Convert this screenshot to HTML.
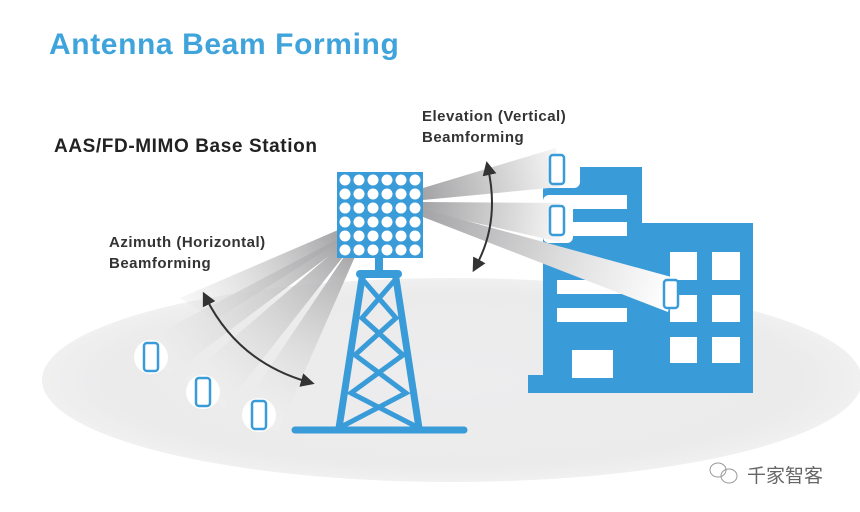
<!DOCTYPE html>
<html><head><meta charset="utf-8"><style>
html,body{margin:0;padding:0;background:#fff;width:860px;height:512px;overflow:hidden}
</style></head><body>
<svg width="860" height="512" viewBox="0 0 860 512" xmlns="http://www.w3.org/2000/svg">
<defs>
<radialGradient id="gnd" cx="0.5" cy="0.5" r="0.5">
<stop offset="0" stop-color="#ededee"/><stop offset="0.85" stop-color="#ebebec"/><stop offset="1" stop-color="#f0f0f1"/>
</radialGradient>
<linearGradient id="bl1" gradientUnits="userSpaceOnUse" x1="340" y1="235" x2="170" y2="330"><stop offset="0" stop-color="#a4a4a6"/><stop offset="1" stop-color="#eeeeee" stop-opacity="0.2"/></linearGradient>
<linearGradient id="bl2" gradientUnits="userSpaceOnUse" x1="340" y1="240" x2="150" y2="357"><stop offset="0" stop-color="#a4a4a6"/><stop offset="1" stop-color="#f4f4f4" stop-opacity="0.3"/></linearGradient>
<linearGradient id="bl3" gradientUnits="userSpaceOnUse" x1="345" y1="245" x2="202" y2="392"><stop offset="0" stop-color="#a4a4a6"/><stop offset="1" stop-color="#f4f4f4" stop-opacity="0.3"/></linearGradient>
<linearGradient id="bl4" gradientUnits="userSpaceOnUse" x1="350" y1="250" x2="258" y2="415"><stop offset="0" stop-color="#a4a4a6"/><stop offset="1" stop-color="#f4f4f4" stop-opacity="0.3"/></linearGradient>
<linearGradient id="br1" gradientUnits="userSpaceOnUse" x1="423" y1="195" x2="560" y2="165"><stop offset="0" stop-color="#a4a4a6"/><stop offset="1" stop-color="#f6f6f6"/></linearGradient>
<linearGradient id="br2" gradientUnits="userSpaceOnUse" x1="423" y1="205" x2="560" y2="220"><stop offset="0" stop-color="#a4a4a6"/><stop offset="1" stop-color="#f6f6f6"/></linearGradient>
<linearGradient id="br3" gradientUnits="userSpaceOnUse" x1="423" y1="212" x2="671" y2="294"><stop offset="0" stop-color="#a4a4a6"/><stop offset="0.55" stop-color="#dcdcdd"/><stop offset="1" stop-color="#ffffff"/></linearGradient>
<marker id="ah" viewBox="0 0 10 10" refX="5" refY="5" markerWidth="7" markerHeight="7" orient="auto-start-reverse"><path d="M0,0 L10,5 L0,10 z" fill="#333"/></marker>
</defs>

<ellipse cx="452" cy="380" rx="410" ry="102" fill="url(#gnd)"/>

<text x="49" y="54" font-family="Liberation Sans, sans-serif" font-weight="bold" font-size="30" letter-spacing="0.6" fill="#3fa3dc">Antenna Beam Forming</text>
<text x="54" y="152" font-family="Liberation Sans, sans-serif" font-weight="bold" font-size="19" letter-spacing="0.6" fill="#222">AAS/FD-MIMO Base Station</text>
<g font-family="Liberation Sans, sans-serif" font-weight="bold" font-size="15" letter-spacing="0.5" fill="#333">
<text x="422" y="121">Elevation (Vertical)</text><text x="422" y="142">Beamforming</text>
<text x="109" y="247">Azimuth (Horizontal)</text><text x="109" y="268">Beamforming</text>
</g>

<!-- building -->
<g fill="#3a9bd9">
<path d="M543 167 H642 V223 H753 V393 H528 V375 H543 Z"/>
</g>
<g fill="#fff">
<rect x="543" y="160" width="37" height="28" rx="6"/>
<rect x="543" y="195" width="30" height="48" rx="6"/>
<rect x="557" y="195" width="70" height="14"/><rect x="557" y="222" width="70" height="14"/>
<rect x="557" y="280" width="70" height="14"/><rect x="557" y="308" width="70" height="14"/>
<rect x="572" y="350" width="41" height="28"/>
<rect x="670" y="252" width="27" height="28"/><rect x="712" y="252" width="28" height="28"/>
<rect x="670" y="295" width="27" height="27"/><rect x="712" y="295" width="28" height="27"/>
<rect x="670" y="337" width="27" height="26"/><rect x="712" y="337" width="28" height="26"/>
</g>

<!-- beams -->
<polygon points="338,230 342,240 215,320 180,298" fill="url(#bl1)"/>
<polygon points="340,238 345,244 170,375 136,345" fill="url(#bl2)"/>
<polygon points="344,243 350,248 224,408 184,380" fill="url(#bl3)"/>
<polygon points="350,248 357,252 278,432 241,410" fill="url(#bl4)"/>
<polygon points="423,188 423,200 560,187 556,148" fill="url(#br1)"/>
<polygon points="423,202 423,211 560,242 560,203" fill="url(#br2)"/>
<polygon points="423,209 423,217 668,312 675,278" fill="url(#br3)"/>

<!-- phone halos -->
<g fill="#fff"><circle cx="151" cy="357" r="17"/><circle cx="203" cy="392" r="17"/><circle cx="259" cy="415" r="17"/></g>

<!-- phones -->
<g fill="#fff" stroke="#3a9bd9" stroke-width="2.5">
<rect x="144" y="343" width="14" height="28" rx="3"/>
<rect x="196" y="378" width="14" height="28" rx="3"/>
<rect x="252" y="401" width="14" height="28" rx="3"/>
<rect x="550" y="155" width="14" height="29" rx="3"/>
<rect x="550" y="206" width="14" height="29" rx="3"/>
<rect x="664" y="280" width="14" height="28" rx="3"/>
</g>

<!-- arcs -->
<path d="M206 298 Q238 362 308 382" fill="none" stroke="#333" stroke-width="2" marker-start="url(#ah)" marker-end="url(#ah)"/>
<path d="M488 168 Q500 222 476 266" fill="none" stroke="#333" stroke-width="2" marker-start="url(#ah)" marker-end="url(#ah)"/>

<!-- antenna panel -->
<rect x="337" y="172" width="86" height="86" fill="#3a9bd9"/>
<g fill="#fff" id="dots">
<circle cx="345" cy="180" r="5.5"/><circle cx="359" cy="180" r="5.5"/><circle cx="373" cy="180" r="5.5"/><circle cx="387" cy="180" r="5.5"/><circle cx="401" cy="180" r="5.5"/><circle cx="415" cy="180" r="5.5"/>
</g>
<use href="#dots" y="14"/><use href="#dots" y="28"/><use href="#dots" y="42"/><use href="#dots" y="56"/><use href="#dots" y="70"/>

<!-- tower -->
<g stroke="#3a9bd9" fill="none">
<line x1="379" y1="258" x2="379" y2="272" stroke-width="8"/>
<line x1="360" y1="274" x2="398" y2="274" stroke-width="8" stroke-linecap="round"/>
<line x1="363" y1="272" x2="339" y2="428" stroke-width="7"/>
<line x1="395" y1="272" x2="419" y2="428" stroke-width="7"/>
<path d="M363 280 L396 318 L355 355 L406 393 L339 428 M395 280 L362 318 L403 355 L351 393 L419 428" stroke-width="5"/>
<line x1="295" y1="430" x2="464" y2="430" stroke-width="7" stroke-linecap="round"/>
</g>

<!-- watermark -->
<g stroke="#999" fill="none" stroke-width="1"><ellipse cx="718" cy="470" rx="8" ry="7"/><ellipse cx="729" cy="476" rx="8" ry="7"/></g>
<text x="747" y="482" font-family="Liberation Sans, Noto Sans CJK SC, sans-serif" font-size="19" fill="#666">千家智客</text>
</svg>
</body></html>
